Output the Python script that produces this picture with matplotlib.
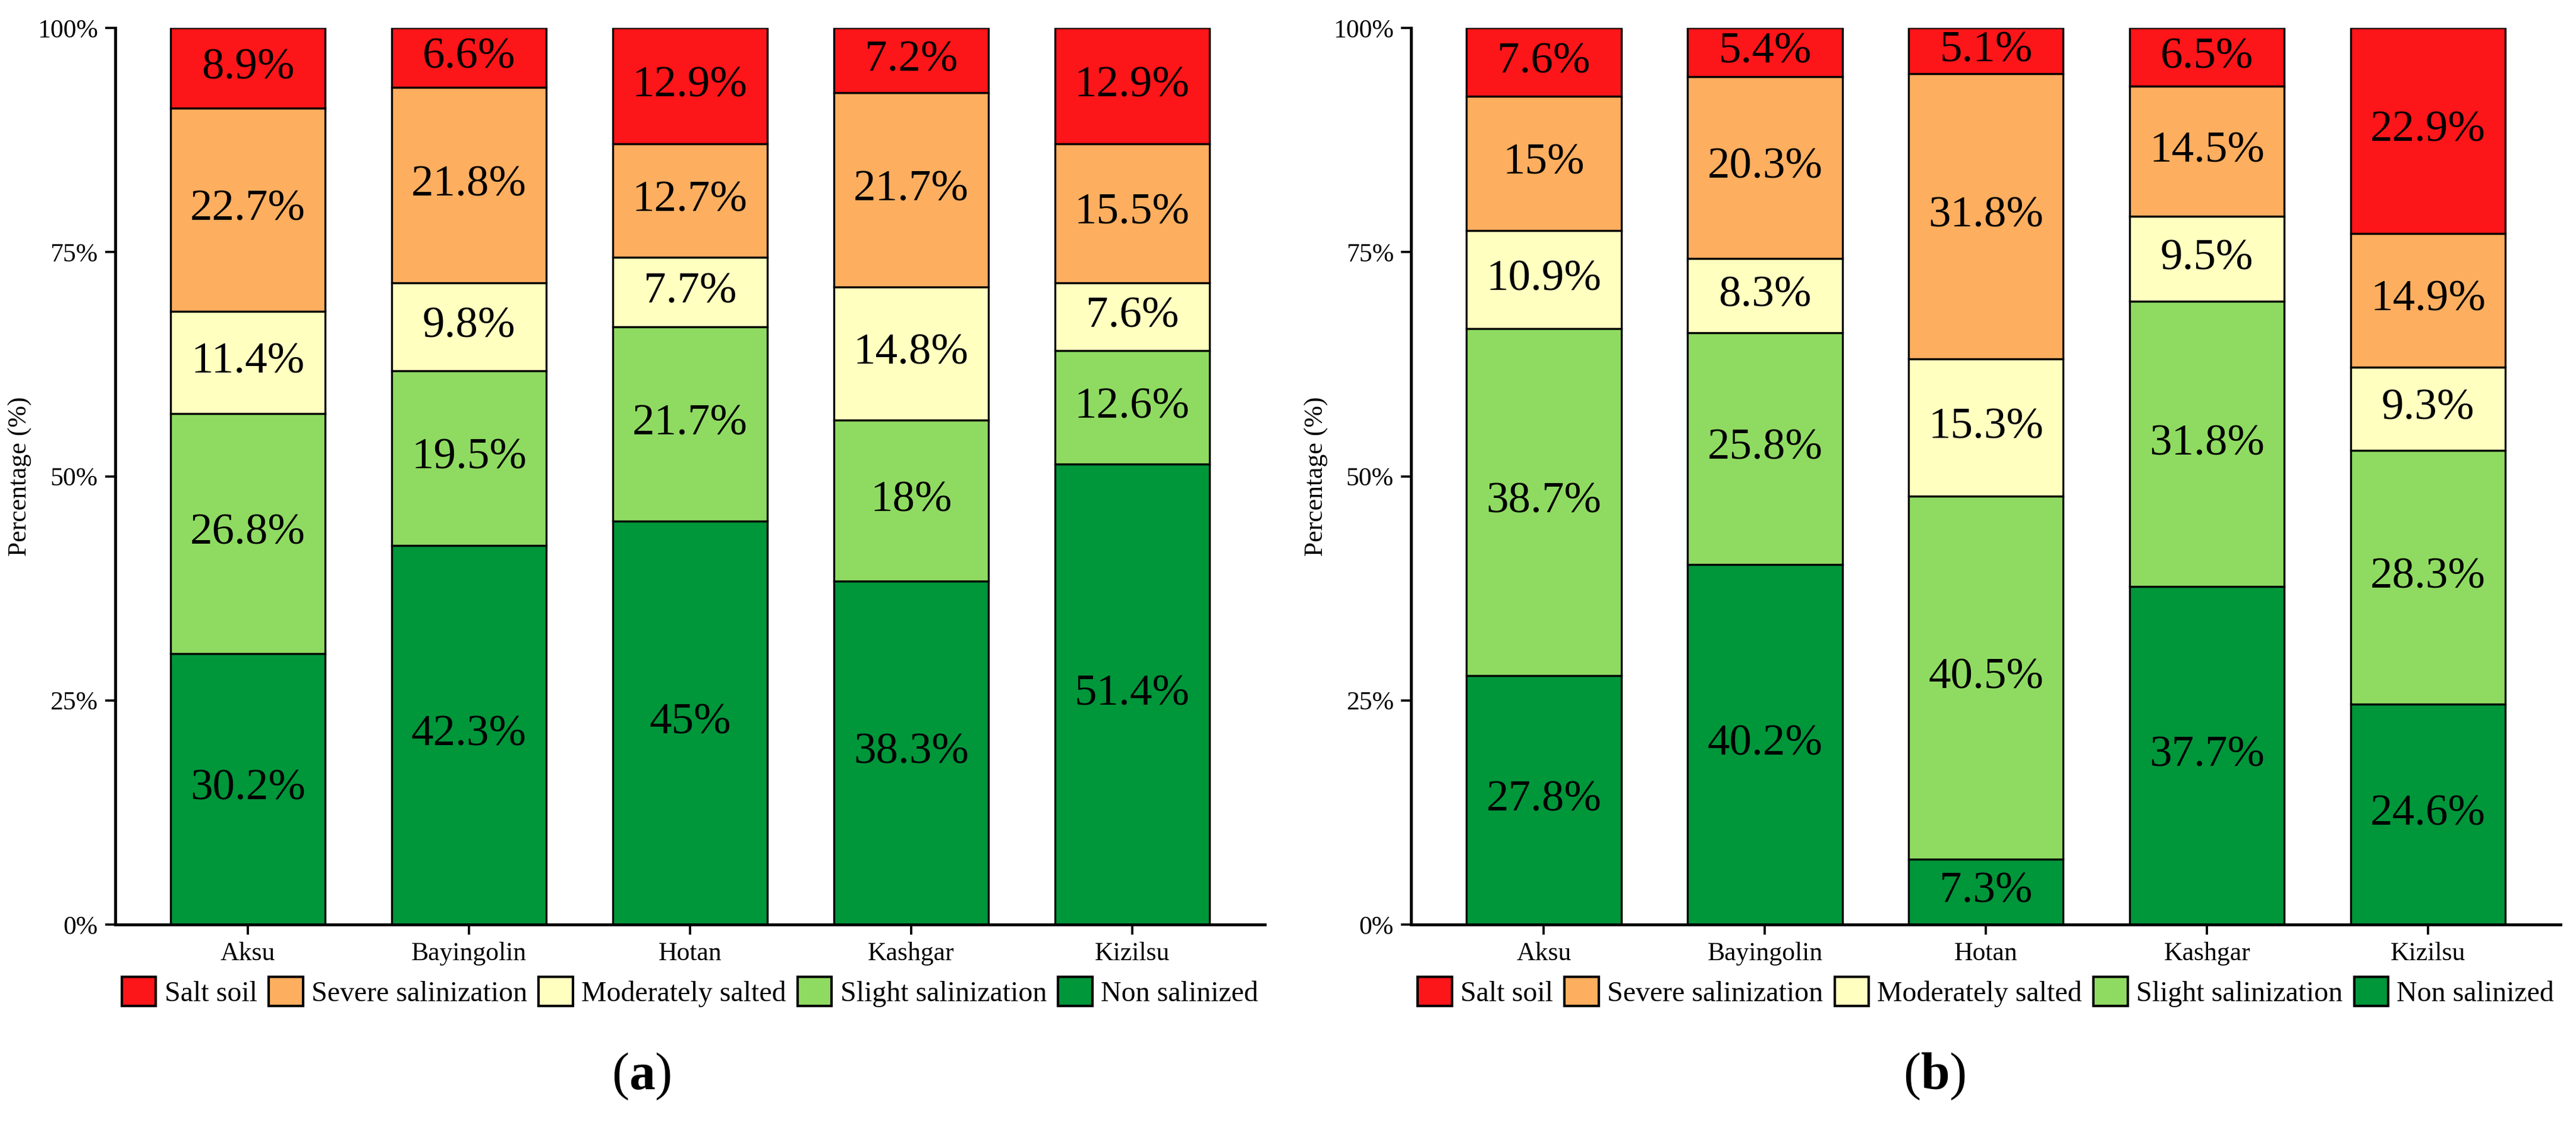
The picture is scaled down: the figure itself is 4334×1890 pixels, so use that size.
import matplotlib
matplotlib.use("Agg")
import matplotlib.pyplot as plt
from matplotlib.patches import Patch
from matplotlib.ticker import FuncFormatter

plt.rcParams["font.family"] = "serif"
plt.rcParams["font.serif"] = ["Liberation Serif", "DejaVu Serif"]
plt.rcParams["mathtext.fontset"] = "custom"
plt.rcParams["mathtext.rm"] = "Liberation Serif"
plt.rcParams["mathtext.bf"] = "Liberation Serif:bold"

# -----------------------------
# Data (percent, bottom -> top)
# -----------------------------
regions = ["Aksu", "Bayingolin", "Hotan", "Kashgar", "Kizilsu"]
classes = ["Non salinized", "Slight salinization", "Moderately salted",
           "Severe salinization", "Salt soil"]
colors = ["#00963A", "#8FDB62", "#FFFFC0", "#FDAE5F", "#FC1519"]

non_a = [30.2, 42.3, 45, 38.3, 51.4]
slight_a = [26.8, 19.5, 21.7, 18, 12.6]
moderate_a = [11.4, 9.8, 7.7, 14.8, 7.6]
severe_a = [22.7, 21.8, 12.7, 21.7, 15.5]
salt_a = [8.9, 6.6, 12.9, 7.2, 12.9]

non_b = [27.8, 40.2, 7.3, 37.7, 24.6]
slight_b = [38.7, 25.8, 40.5, 31.8, 28.3]
moderate_b = [10.9, 8.3, 15.3, 9.5, 9.3]
severe_b = [15, 20.3, 31.8, 14.5, 14.9]
salt_b = [7.6, 5.4, 5.1, 6.5, 22.9]

panel_a = [non_a, slight_a, moderate_a, severe_a, salt_a]
panel_b = [non_b, slight_b, moderate_b, severe_b, salt_b]


def draw_panel(ax, series):
    x = range(len(regions))
    bottom = [0.0] * len(regions)
    for vals, col in zip(series, colors):
        frac = [v / 100 for v in vals]
        ax.bar(x, frac, bottom=bottom, width=0.7, color=col,
               edgecolor="black", linewidth=0.8, zorder=2)
        for i, v in enumerate(vals):
            ax.text(i, bottom[i] + frac[i] / 2, f"{v:g}%", ha="center",
                    va="center", fontsize=18)
        bottom = [b + f for b, f in zip(bottom, frac)]

    ax.set_xlim(-0.6, len(regions) - 0.4)
    ax.set_ylim(0, 1)
    ax.set_xticks(list(x))
    ax.set_xticklabels(regions)
    ax.set_yticks([0, 0.25, 0.5, 0.75, 1.0])
    ax.yaxis.set_major_formatter(FuncFormatter(lambda v, p: f"{v * 100:.0f}%"))
    ax.set_ylabel("Percentage (%)", fontsize=10.5, labelpad=2)
    ax.tick_params(axis="both", labelsize=10.5, length=4, width=0.9,
                   direction="out", colors="black", pad=3)
    for s in ["top", "right"]:
        ax.spines[s].set_visible(False)
    for s in ["left", "bottom"]:
        ax.spines[s].set_linewidth(1.2)

    handles = [Patch(facecolor=c, edgecolor="black", linewidth=1.0, label=l)
               for c, l in zip(colors[::-1], classes[::-1])]
    ax.legend(handles=handles, loc="upper center", bbox_to_anchor=(0.5, -0.036),
              ncol=5, frameon=False, fontsize=11.5, handlelength=1.2,
              handleheight=1.2, handletextpad=0.3, columnspacing=0.4,
              borderpad=0.2)


fig = plt.figure(figsize=(4334 / 300, 1890 / 300), dpi=300)
ax_a = fig.add_axes([0.0447, 0.1767, 0.4463, 0.7983])
ax_b = fig.add_axes([0.5478, 0.1767, 0.4463, 0.7983])

draw_panel(ax_a, panel_a)
draw_panel(ax_b, panel_b)

fig.text(0.249, 0.03, r"($\mathbf{a}$)", fontsize=21, ha="center", va="baseline")
fig.text(0.751, 0.03, r"($\mathbf{b}$)", fontsize=21, ha="center", va="baseline")

fig.savefig("out.png", dpi=300)
